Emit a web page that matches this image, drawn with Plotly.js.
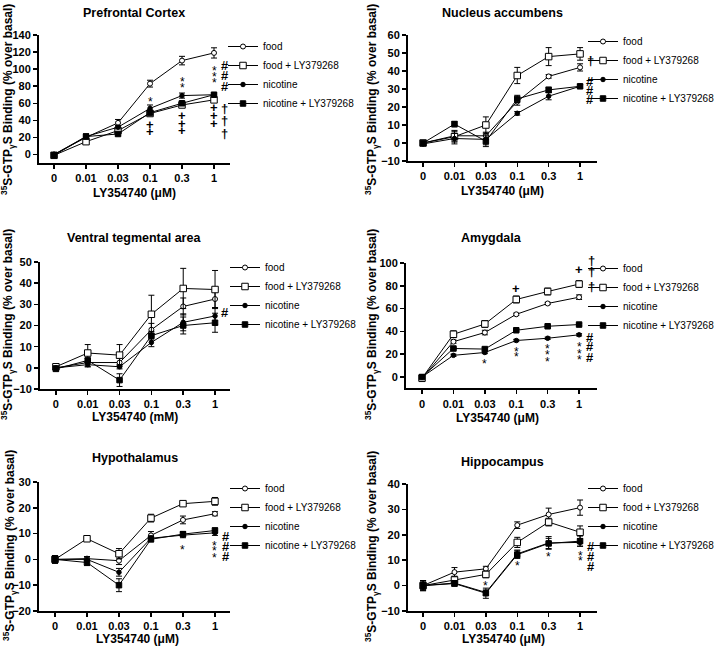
<!DOCTYPE html>
<html><head><meta charset="utf-8">
<script src="https://cdn.plot.ly/plotly-3.0.1.min.js"></script>
<style>html,body{margin:0;padding:0;background:#fff}#chart{width:720px;height:646px}</style>
</head><body><div id="chart"></div>
<script>
// ---------- data ----------
const categories = ['0', '0.01', '0.03', '0.1', '0.3', '1'];
const seriesNames = ['food', 'food + LY379268', 'nicotine', 'nicotine + LY379268'];

// Prefrontal Cortex
const pfcFood      = [0, 20, 37, 83, 110, 119];
const pfcFoodErr   = [2, 4, 4, 4, 5, 6];
const pfcFoodLY    = [-1, 15, 28, 48, 58, 64];
const pfcFoodLYErr = [2, 2, 2, 3, 3, 3];
const pfcNic       = [0, 21, 32, 54, 69, 70];
const pfcNicErr    = [2, 3, 2, 4, 3, 2];
const pfcNicLY     = [-1, 21, 24, 49, 60, 70];
const pfcNicLYErr  = [1, 2, 2, 2, 2, 2];
const pfcTicks     = [0, 20, 40, 60, 80, 100, 120, 140];

// Nucleus accumbens
const nacFood      = [0, 4, 4, 23, 37, 42];
const nacFoodErr   = [1, 3, 2, 2, 1, 2];
const nacFoodLY    = [0, 3.5, 10, 37.5, 48, 49.5];
const nacFoodLYErr = [1, 3, 4.5, 4.5, 5, 3.5];
const nacNic       = [-0.5, 2.5, 2, 16.5, 26, 31.5];
const nacNicErr    = [1, 3, 3, 1, 2, 1];
const nacNicLY     = [0, 10.5, 1, 24.5, 29.5, 31.5];
const nacNicLYErr  = [1, 1.5, 3, 2, 1.5, 1];
const nacTicks     = [-10, 0, 10, 20, 30, 40, 50, 60];

// Ventral tegmental area
const vtaFood      = [0, 2.5, 2.5, 18, 29, 32.5];
const vtaFoodErr   = [1, 2, 2, 3, 4, 4];
const vtaFoodLY    = [0.5, 7, 6, 25.3, 37.5, 37];
const vtaFoodLYErr = [1, 4, 5, 9, 9.5, 9];
const vtaNic       = [0, 1.5, 0.5, 12, 21.5, 24.5];
const vtaNicErr    = [1, 1, 1, 2, 4, 4];
const vtaNicLY     = [-0.5, 3.5, -5.8, 15.2, 20, 21.3];
const vtaNicLYErr  = [1, 1, 3, 2, 4, 4.5];
const vtaTicks     = [-10, 0, 10, 20, 30, 40, 50];

// Amygdala
const amyFood      = [-1, 31, 39, 55, 64.5, 70];
const amyFoodErr   = [1.5, 1.5, 2, 1, 1, 2];
const amyFoodLY    = [-1, 37.5, 46.5, 68, 75, 81.5];
const amyFoodLYErr = [3, 3, 3, 3, 3, 3];
const amyNic       = [0, 19, 21.5, 32, 34, 37];
const amyNicErr    = [1, 1, 1, 1, 1, 1];
const amyNicLY     = [0, 25, 24.5, 41, 44.5, 46];
const amyNicLYErr  = [1, 1, 1.5, 1, 1, 1];
const amyTicks     = [0, 20, 40, 60, 80, 100];

// Hypothalamus
const hypFood      = [0, 0.3, -0.5, 9.3, 15.3, 17.7];
const hypFoodErr   = [1.5, 0.8, 1.5, 1.5, 1.5, 0.8];
const hypFoodLY    = [0, 8, 2.2, 16, 21.6, 22.5];
const hypFoodLYErr = [1.5, 0.5, 2, 1.5, 1, 1.5];
const hypNic       = [0, 0, -5, 8.2, 9.4, 10.3];
const hypNicErr    = [1, 1, 1.5, 1, 1, 1];
const hypNicLY     = [0, -1.2, -10, 7.8, 9.8, 11.2];
const hypNicLYErr  = [1, 1.2, 2.5, 1, 1, 1];
const hypTicks     = [-20, -10, 0, 10, 20, 30];

// Hippocampus
const hipFood      = [0, 5.3, 6.6, 23.8, 28, 30.7];
const hipFoodErr   = [2, 1.8, 1, 1.3, 2.5, 3];
const hipFoodLY    = [0, 2.2, 4.4, 17, 25, 21];
const hipFoodLYErr = [2, 1.5, 1.3, 2, 1.5, 2.5];
const hipNic       = [0, 1, -2.7, 12.5, 16.8, 17];
const hipNicErr    = [1, 1, 1, 1.5, 2.5, 1.5];
const hipNicLY     = [0, 0.8, -3, 12.2, 16.6, 17.5];
const hipNicLYErr  = [1.5, 1, 2, 1.5, 2, 2];
const hipTicks     = [-10, 0, 10, 20, 30, 40];

// significance symbols: [symbol, category position, value]
const pfcStats = [['*',3,64],['*',4,87],['*',4,80],['*',5,100],['*',5,93],['*',5,86],
  ['#',5.33,104.6],['#',5.33,92.8],['#',5.33,80],
  ['+',3,35],['+',3,27],['+',4,45.8],['+',4,36.4],['+',4,28.2],['+',5,55.2],['+',5,45.8],['+',5,36.4],
  ['†',5.33,54],['†',5.33,40],['†',5.33,25]];
const nacStats = [['†',5.32,46],['#',5.32,34],['#',5.32,29],['#',5.32,24]];
const vtaStats = [['#',5.31,26]];
const amyStats = [['+',3,78],['+',5,94],['†',5.38,99],['†',5.38,92.4],['†',5.38,79],
  ['*',2,13.5],['*',3,23.7],['*',3,19],['*',4,26.6],['*',4,20.8],['*',4,15],['*',5,28],['*',5,22],['*',5,16.4],
  ['#',5.35,35],['#',5.35,26.6],['#',5.35,17]];
const hypStats = [['*',4,4.4],['*',5,6],['*',5,3.9],['*',5,1.3],['#',5.33,9],['#',5.33,5],['#',5.33,1.2]];
const hipStats = [['*',2,0.7],['*',3,8.6],['*',4,11.9],['*',5,12.5],['*',5,10.3],['#',5.35,15.4],['#',5.35,11.5],['#',5.35,7.5]];

const yTitleText = '<sup>35</sup>S-GTP<sub>γ</sub>S Binding (% over basal)';

const panels = [
  {title:'Prefrontal Cortex', xTitle:'LY354740 (μM)', series:[pfcFood,pfcFoodLY,pfcNic,pfcNicLY], errs:[pfcFoodErr,pfcFoodLYErr,pfcNicErr,pfcNicLYErr], ticks:pfcTicks, yr:[-10,140], stats:pfcStats},
  {title:'Nucleus accumbens', xTitle:'LY354740 (μM)', series:[nacFood,nacFoodLY,nacNic,nacNicLY], errs:[nacFoodErr,nacFoodLYErr,nacNicErr,nacNicLYErr], ticks:nacTicks, yr:[-10,60], stats:nacStats},
  {title:'Ventral tegmental area', xTitle:'LY354740 (mM)', series:[vtaFood,vtaFoodLY,vtaNic,vtaNicLY], errs:[vtaFoodErr,vtaFoodLYErr,vtaNicErr,vtaNicLYErr], ticks:vtaTicks, yr:[-10,50], stats:vtaStats},
  {title:'Amygdala', xTitle:'LY354740 (μM)', series:[amyFood,amyFoodLY,amyNic,amyNicLY], errs:[amyFoodErr,amyFoodLYErr,amyNicErr,amyNicLYErr], ticks:amyTicks, yr:[-10,100], stats:amyStats},
  {title:'Hypothalamus', xTitle:'LY354740 (μM)', series:[hypFood,hypFoodLY,hypNic,hypNicLY], errs:[hypFoodErr,hypFoodLYErr,hypNicErr,hypNicLYErr], ticks:hypTicks, yr:[-20,30], stats:hypStats},
  {title:'Hippocampus', xTitle:'LY354740 (μM)', series:[hipFood,hipFoodLY,hipNic,hipNicLY], errs:[hipFoodErr,hipFoodLYErr,hipNicErr,hipNicLYErr], ticks:hipTicks, yr:[-10,40], stats:hipStats}
];

// ---------- layout geometry (pixels) ----------
const W = 720, H = 646;
const geom = [
  {x:[39,230], y:[35,163], xr:[-0.47,5.5], title:[134,13], xt:[134,193], yt:[8,100], leg:[223,32,'left']},
  {x:[408,597], y:[35,161], xr:[-0.48,5.54], title:[502,13], xt:[502,191], yt:[372,100], leg:[720,27,'right']},
  {x:[40,230], y:[262,389], xr:[-0.5,5.47], title:[134,238], xt:[135,417], yt:[8,325], leg:[225,253,'left']},
  {x:[406,597], y:[263,388.4], xr:[-0.51,5.57], title:[491,238], xt:[497,418], yt:[372,325], leg:[720,254,'right']},
  {x:[39,230], y:[482,611], xr:[-0.5,5.47], title:[135,458], xt:[137,639], yt:[10,546], leg:[225,474,'left']},
  {x:[408,597], y:[484,611], xr:[-0.48,5.54], title:[502,462], xt:[503,639], yt:[372,547], leg:[720,474,'right']}
];
const seriesStyle = [
  {symbol:'circle', color:'white', size:5},
  {symbol:'square', color:'white', size:6.5},
  {symbol:'circle', color:'black', size:4.5},
  {symbol:'square', color:'black', size:5.5}
];
const FAM = 'Liberation Sans, Arial, sans-serif';
const px = v => v / W, py = v => 1 - v / H;

const traces = [];
const layout = {
  width: W, height: H, margin:{l:0,r:0,t:0,b:0},
  paper_bgcolor:'white', plot_bgcolor:'white', showlegend:true,
  annotations: []
};

panels.forEach((p, i) => {
  const n = i + 1, g = geom[i];
  const xa = n === 1 ? 'x' : 'x' + n, ya = n === 1 ? 'y' : 'y' + n;
  const lg = n === 1 ? 'legend' : 'legend' + n;
  p.series.forEach((vals, s) => {
    const st = seriesStyle[s];
    traces.push({
      type:'scatter', mode:'lines+markers', x: categories, y: vals, name: seriesNames[s],
      xaxis: xa, yaxis: ya, legend: lg, cliponaxis:false,
      line:{color:'black', width:1},
      marker:{symbol:st.symbol, color:st.color, size:st.size, line:{color:'black', width:1}},
      error_y:{type:'data', array:p.errs[s], visible:true, color:'black', thickness:1, width:3}
    });
  });
  const axCommon = {showline:true, linecolor:'black', linewidth:2, ticks:'outside', tickcolor:'black',
    tickwidth:1.5, ticklen:4, showgrid:false, zeroline:false, fixedrange:true, automargin:false,
    tickfont:{family:FAM, size:11, color:'black', weight:'bold'}};
  layout[n === 1 ? 'xaxis' : 'xaxis' + n] = Object.assign({}, axCommon, {
    type:'category', domain:[px(g.x[0]), px(g.x[1])], anchor: ya, range: g.xr
  });
  layout[n === 1 ? 'yaxis' : 'yaxis' + n] = Object.assign({}, axCommon, {
    domain:[py(g.y[1]), py(g.y[0])], anchor: xa, range: p.yr, tickvals: p.ticks
  });
  layout[lg] = {x: px(g.leg[0]), y: py(g.leg[1]), xanchor:g.leg[2], yanchor:'top',
    bgcolor:'rgba(0,0,0,0)', borderwidth:0, tracegroupgap:0,
    font:{family:FAM, size:10, color:'black'}};
  // titles
  layout.annotations.push({xref:'paper', yref:'paper', x:px(g.title[0]), y:py(g.title[1]), xanchor:'center', yanchor:'middle',
    text:p.title, showarrow:false, font:{family:FAM, size:12.5, color:'black', weight:'bold'}});
  layout.annotations.push({xref:'paper', yref:'paper', x:px(g.xt[0]), y:py(g.xt[1]), xanchor:'center', yanchor:'middle',
    text:p.xTitle, showarrow:false, font:{family:FAM, size:12, color:'black', weight:'bold'}});
  layout.annotations.push({xref:'paper', yref:'paper', x:px(g.yt[0]), y:py(g.yt[1]), xanchor:'center', yanchor:'middle',
    text:yTitleText, textangle:-90, showarrow:false, font:{family:FAM, size:12, color:'black', weight:'bold'}});
  // significance marks
  p.stats.forEach(([sym, xv, yv]) => {
    layout.annotations.push({xref:xa, yref:ya, x:xv, y:yv, text:sym, showarrow:false,
      xanchor:'center', yanchor:'middle', yshift: sym === '*' ? -2 : (yv === 99 ? 4 : 0),
      font:{family:FAM, size: sym === '*' ? 12 : 13, color:'black', weight: sym === '*' ? 'normal' : 'bold'}});
  });
});

Plotly.newPlot('chart', traces, layout, {staticPlot:true, displayModeBar:false});
</script>
</body></html>
